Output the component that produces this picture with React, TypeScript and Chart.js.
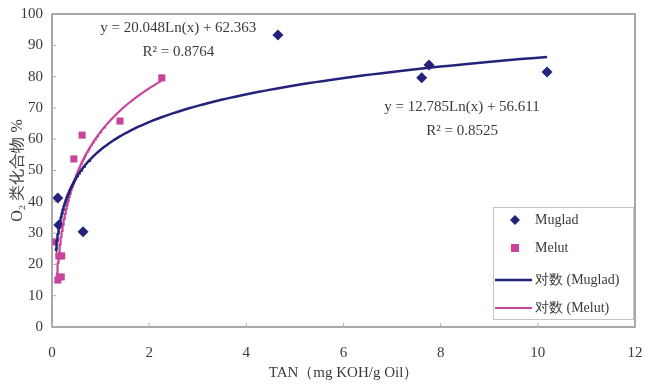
import React, { useEffect, useRef } from "react";
import { Chart, registerables } from "chart.js";

Chart.register(...registerables);

// ---- data ----
const mugladX = [0.12, 0.14, 0.64, 4.65, 7.61, 7.76, 10.19];
const mugladY = [41.2, 32.6, 30.4, 93.3, 79.6, 83.7, 81.5];
const melutX = [0.06, 0.14, 0.2, 0.12, 0.19, 0.45, 0.62, 1.4, 2.26];
const melutY = [27.2, 22.7, 22.7, 15.0, 16.0, 53.7, 61.3, 65.8, 79.6];

// logarithmic trend lines (coefficients as printed on the chart)
const mugladFit = [12.785, 56.611]; // y = a ln(x) + b
const melutFit = [20.048, 62.363];
const mugladFitRange = [0.08, 10.19];
const melutFitRange = [0.095, 2.26];
const mugladR2 = "0.8525";
const melutR2 = "0.8764";

const xTicks = [0, 2, 4, 6, 8, 10, 12];
const yTicks = [0, 10, 20, 30, 40, 50, 60, 70, 80, 90, 100];

const NAVY = "#23237a";
const PINK = "#c8439c";
const TEXT = "#3a3a3a";
const SERIF = "'Liberation Serif', 'Times New Roman', serif";

function fitPoints(coef: number[], range: number[]) {
  const pts: { x: number; y: number }[] = [];
  const n = 200;
  const l0 = Math.log(range[0]);
  const l1 = Math.log(range[1]);
  for (let i = 0; i <= n; i++) {
    const x = Math.exp(l0 + ((l1 - l0) * i) / n);
    pts.push({ x, y: coef[0] * Math.log(x) + coef[1] });
  }
  return pts;
}

const decorPlugin = {
  id: "decor",
  afterDraw(chart: any) {
    const { ctx, chartArea, scales } = chart;
    const xs = scales.x;
    const ys = scales.y;
    ctx.save();
    // plot frame
    ctx.strokeStyle = "#8c8c8c";
    ctx.lineWidth = 1.5;
    ctx.strokeRect(chartArea.left, chartArea.top, chartArea.right - chartArea.left, chartArea.bottom - chartArea.top);
    // inner tick marks
    ctx.lineWidth = 1;
    ctx.strokeStyle = "#b0b0b0";
    xTicks.forEach((t) => {
      const px = xs.getPixelForValue(t);
      ctx.beginPath();
      ctx.moveTo(px, chartArea.bottom);
      ctx.lineTo(px, chartArea.bottom - 4);
      ctx.stroke();
    });
    yTicks.forEach((t) => {
      const py = ys.getPixelForValue(t);
      ctx.beginPath();
      ctx.moveTo(chartArea.left, py);
      ctx.lineTo(chartArea.left + 4, py);
      ctx.stroke();
    });

    // equations
    ctx.fillStyle = TEXT;
    ctx.font = `15px ${SERIF}`;
    ctx.textAlign = "center";
    ctx.textBaseline = "middle";
    const eq = (cx: number, cy: number, coef: number[], r2: string) => {
      const px = xs.getPixelForValue(cx);
      const py = ys.getPixelForValue(cy);
      ctx.fillText(`y = ${coef[0].toFixed(3)}Ln(x) + ${coef[1].toFixed(3)}`, px, py);
      ctx.fillText(`R\u00B2 = ${r2}`, px, py + 24);
    };
    eq(2.6, 95.5, melutFit, melutR2);
    eq(8.44, 70.3, mugladFit, mugladR2);

    // legend
    const lx = 493, ly = 207, lw = 140, lh = 112;
    ctx.fillStyle = "#ffffff";
    ctx.fillRect(lx, ly, lw, lh);
    ctx.strokeStyle = "#c4c4c4";
    ctx.lineWidth = 1;
    ctx.strokeRect(lx + 0.5, ly + 0.5, lw, lh);
    ctx.font = `14px ${SERIF}`;
    ctx.textAlign = "left";
    ctx.textBaseline = "middle";
    const tx = 535;
    // Muglad diamond
    let y = 220;
    ctx.fillStyle = NAVY;
    ctx.beginPath();
    ctx.moveTo(515, y - 5);
    ctx.lineTo(520, y);
    ctx.lineTo(515, y + 5);
    ctx.lineTo(510, y);
    ctx.closePath();
    ctx.fill();
    ctx.fillStyle = TEXT;
    ctx.fillText("Muglad", tx, y);
    // Melut square
    y = 248;
    ctx.fillStyle = PINK;
    ctx.fillRect(511, y - 4, 8, 8);
    ctx.fillStyle = TEXT;
    ctx.fillText("Melut", tx, y);
    // lines
    y = 280;
    ctx.strokeStyle = NAVY;
    ctx.lineWidth = 2.5;
    ctx.beginPath();
    ctx.moveTo(495, y);
    ctx.lineTo(532, y);
    ctx.stroke();
    ctx.fillStyle = TEXT;
    ctx.fillText("对数 (Muglad)", tx, y);
    y = 308;
    ctx.strokeStyle = PINK;
    ctx.lineWidth = 2;
    ctx.beginPath();
    ctx.moveTo(495, y);
    ctx.lineTo(532, y);
    ctx.stroke();
    ctx.fillText("对数 (Melut)", tx, y);
    ctx.restore();
  },
};

export default function App() {
  const ref = useRef<HTMLCanvasElement | null>(null);
  useEffect(() => {
    document.body.style.margin = "0";
    const canvas = ref.current!;
    const chart = new Chart(canvas, {
      type: "scatter",
      data: {
        datasets: [
          {
            label: "对数 (Muglad)",
            data: fitPoints(mugladFit, mugladFitRange),
            showLine: true,
            borderColor: NAVY,
            borderWidth: 2.5,
            pointRadius: 0,
            tension: 0,
          },
          {
            label: "对数 (Melut)",
            data: fitPoints(melutFit, melutFitRange),
            showLine: true,
            borderColor: PINK,
            borderWidth: 2.2,
            pointRadius: 0,
            tension: 0,
          },
          {
            label: "Muglad",
            data: mugladX.map((x, i) => ({ x, y: mugladY[i] })),
            pointStyle: "rectRot",
            pointRadius: 5.5,
            backgroundColor: NAVY,
            borderColor: NAVY,
            borderWidth: 0,
          },
          {
            label: "Melut",
            data: melutX.map((x, i) => ({ x, y: melutY[i] })),
            pointStyle: "rect",
            pointRadius: 5,
            backgroundColor: PINK,
            borderColor: PINK,
            borderWidth: 0,
          },
        ],
      },
      options: {
        animation: false,
        responsive: false,
        layout: { padding: { left: 8, right: 10, top: 14, bottom: 4 } },
        plugins: { legend: { display: false }, tooltip: { enabled: false } },
        scales: {
          x: {
            type: "linear",
            min: 0,
            max: 12,
            afterBuildTicks: (s: any) => {
              s.ticks = xTicks.map((v) => ({ value: v }));
            },
            grid: { display: false, drawTicks: false },
            border: { display: false },
            ticks: { color: TEXT, font: { family: SERIF, size: 15 }, padding: 17 },
            title: {
              display: true,
              text: "TAN（mg KOH/g Oil）",
              color: TEXT,
              font: { family: SERIF, size: 15 },
              padding: 0,
            },
            afterFit: (s: any) => {
              s.height = 55;
              s.paddingLeft = 0;
              s.paddingRight = 0;
            },
          },
          y: {
            type: "linear",
            min: 0,
            max: 100,
            afterBuildTicks: (s: any) => {
              s.ticks = yTicks.map((v) => ({ value: v }));
            },
            grid: { display: false, drawTicks: false },
            border: { display: false },
            ticks: { color: TEXT, font: { family: SERIF, size: 15 }, padding: 9 },
            title: {
              display: true,
              text: "O\u2082 类化合物 %",
              color: TEXT,
              font: { family: SERIF, size: 16 },
              padding: 0,
            },
            afterFit: (s: any) => {
              s.width = 44;
              s.paddingTop = 0;
              s.paddingBottom = 0;
            },
          },
        },
      },
      plugins: [decorPlugin],
    } as any);
    return () => chart.destroy();
  }, []);
  return (
    <div style={{ width: 645, height: 386, background: "#fff" }}>
      <canvas ref={ref} width={645} height={386} style={{ display: "block" }} />
    </div>
  );
}
